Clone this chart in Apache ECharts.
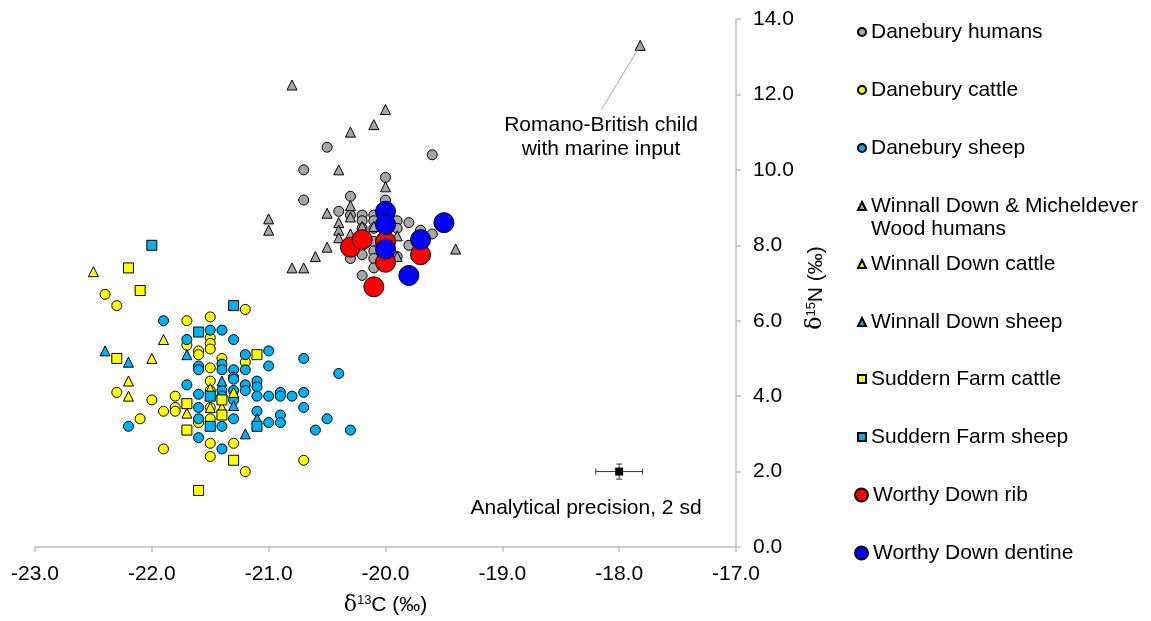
<!DOCTYPE html>
<html>
<head>
<meta charset="utf-8">
<script src="https://cdn.jsdelivr.net/npm/echarts@6/dist/echarts.min.js"></script>
<style>html,body{margin:0;padding:0;background:#fff}#c{width:1151px;height:621px}</style>
</head>
<body>
<div id="c"></div>
<script>
// ---- data (δ13C, δ15N) ----
const xTicks = [-23, -22, -21, -20, -19, -18, -17];
const yTicks = [0, 2, 4, 6, 8, 10, 12, 14];

const daneburyHumans = [[-20.5,10.6],[-19.6,10.4],[-20.7,10.0],[-20.0,9.8],[-20.7,9.2],[-20.3,9.3],[-20.0,9.2],[-20.4,8.9],[-20.3,8.8],[-20.2,8.8],[-20.2,8.65],[-20.1,8.8],[-20.1,8.65],[-20.2,8.45],[-20.1,8.45],[-19.9,8.65],[-19.9,8.45],[-19.8,8.6],[-19.7,8.4],[-19.6,8.3],[-20.1,8.1],[-20.1,7.85],[-20.1,7.65],[-20.1,7.4],[-20.2,8.0],[-20.2,7.75],[-20.3,7.65],[-20.2,7.2],[-19.8,8.0],[-19.9,7.7],[-20.0,8.3]];
const daneburyCattle = [[-22.4,6.7],[-22.3,6.4],[-21.7,6.0],[-21.5,6.1],[-21.2,6.3],[-21.5,5.55],[-21.5,5.4],[-21.5,5.25],[-21.7,5.35],[-21.6,5.2],[-21.6,5.1],[-21.4,5.0],[-21.5,4.75],[-21.2,4.9],[-22.3,4.1],[-21.5,4.4],[-21.5,4.15],[-21.8,4.0],[-22.0,3.9],[-21.8,3.7],[-21.8,3.6],[-21.9,3.6],[-21.5,3.7],[-21.6,3.3],[-21.5,3.4],[-22.1,3.4],[-21.9,2.6],[-21.5,2.75],[-21.3,2.75],[-21.5,2.4],[-21.2,2.0],[-20.7,2.3]];
const daneburySheep = [[-21.9,6.0],[-21.5,5.75],[-21.4,5.75],[-21.3,5.5],[-21.7,5.5],[-21.2,5.1],[-21.0,5.2],[-21.6,4.8],[-21.6,4.7],[-21.4,4.85],[-21.4,4.7],[-21.3,4.7],[-21.3,4.5],[-21.2,4.7],[-21.0,4.8],[-20.7,5.0],[-20.4,4.6],[-21.7,4.3],[-21.4,4.15],[-21.4,4.0],[-21.3,4.45],[-21.3,4.15],[-21.2,4.3],[-21.2,4.15],[-21.1,4.4],[-21.1,4.25],[-21.6,4.05],[-21.3,3.9],[-21.1,4.0],[-21.0,4.0],[-20.9,4.1],[-20.9,4.0],[-20.8,4.0],[-20.7,4.1],[-20.7,3.7],[-21.6,3.7],[-21.6,3.4],[-21.4,3.2],[-21.3,3.4],[-21.1,3.6],[-21.0,3.3],[-20.9,3.5],[-20.9,3.3],[-20.5,3.4],[-20.6,3.1],[-20.3,3.1],[-22.2,3.2],[-21.6,2.9],[-21.4,2.6]];
const winnallHumans = [[-20.8,12.25],[-20.0,11.6],[-20.1,11.2],[-20.3,11.0],[-20.4,10.0],[-20.0,9.55],[-20.3,9.05],[-20.5,8.85],[-20.3,8.75],[-20.4,8.6],[-20.4,8.4],[-20.3,8.3],[-20.4,8.2],[-20.5,7.95],[-20.6,7.7],[-20.8,7.4],[-20.7,7.4],[-19.4,7.9],[-19.9,7.7],[-21.0,8.7],[-21.0,8.4],[-20.2,8.5],[-20.1,8.5],[-19.9,8.25],[-17.82,13.3]];
const winnallCattle = [[-22.5,7.3],[-21.9,5.5],[-22.0,5.0],[-22.2,4.4],[-22.2,4.0],[-21.5,4.2],[-21.3,4.1],[-21.7,3.55],[-21.5,3.7],[-21.4,3.7]];
const winnallSheep = [[-22.4,5.2],[-22.2,4.9],[-21.7,5.1],[-21.4,4.4],[-21.3,3.75],[-21.1,3.4],[-21.2,3.0]];
const suddernCattle = [[-22.2,7.4],[-22.1,6.8],[-22.3,5.0],[-21.1,5.1],[-21.7,3.8],[-21.4,3.9],[-21.4,3.5],[-21.7,3.1],[-21.3,2.3],[-21.6,1.5]];
const suddernSheep = [[-22.0,8.0],[-21.3,6.4],[-21.6,5.7],[-21.5,4.0],[-21.5,3.2],[-21.1,3.2]];
const worthyRib = [[-20.3,7.95],[-20.2,8.15],[-20.0,8.1],[-20.0,7.55],[-19.7,7.75],[-20.1,6.9]];
const worthyDentine = [[-20.0,8.9],[-20.0,8.55],[-20.0,7.9],[-19.7,8.15],[-19.5,8.6],[-19.8,7.2]];
const precision = [[-18.0, 2.0, 0.2, 0.2]]; // x, y, x error, y error (2 sd)
const childLeader = [[-17.82, 13.3], [-18.15, 11.6]];

const FONT = '"Liberation Sans", Arial, sans-serif';
const FS = 21;
const AXIS_COLOR = '#BFBFBF';

function sc(name, data, symbol, color, size) {
  return {
    name, type: 'scatter', data, symbol, symbolSize: size,
    itemStyle: { color, borderColor: '#000', borderWidth: 1, opacity: 1 },
    emphasis: { disabled: true }
  };
}

const series = [
  sc('Danebury humans', daneburyHumans, 'circle', '#A6A6A6', 10),
  sc('Danebury cattle', daneburyCattle, 'circle', '#FFFF00', 10),
  sc('Danebury sheep', daneburySheep, 'circle', '#00B0F0', 10),
  sc('Winnall Down & Micheldever Wood humans', winnallHumans, 'triangle', '#A6A6A6', 10),
  sc('Winnall Down cattle', winnallCattle, 'triangle', '#FFFF00', 10),
  sc('Winnall Down sheep', winnallSheep, 'triangle', '#00B0F0', 10),
  sc('Suddern Farm cattle', suddernCattle, 'rect', '#FFFF00', 10),
  sc('Suddern Farm sheep', suddernSheep, 'rect', '#00B0F0', 10),
  sc('Worthy Down rib', worthyRib, 'circle', '#FF0000', 20),
  sc('Worthy Down dentine', worthyDentine, 'circle', '#0000FF', 20)
];
// leader line for the Romano-British child
series[3].markLine = {
  silent: true, symbol: 'none', animation: false,
  label: { show: false },
  lineStyle: { color: '#A6A6A6', width: 1, type: 'solid' },
  data: [[{ coord: childLeader[0] }, { coord: childLeader[1] }]]
};
// analytical precision with error bars
series.push({
  name: 'precision', type: 'custom', data: precision, z: 5,
  renderItem: function (params, api) {
    const x = api.value(0), y = api.value(1), ex = api.value(2), ey = api.value(3);
    const c = api.coord([x, y]);
    const l = api.coord([x - ex, y]), r = api.coord([x + ex, y]);
    const t = api.coord([x, y + ey]), b = api.coord([x, y - ey]);
    const st = { stroke: '#333', lineWidth: 1, fill: null };
    const cap = 3;
    return {
      type: 'group', children: [
        { type: 'line', shape: { x1: l[0], y1: l[1], x2: r[0], y2: r[1] }, style: st },
        { type: 'line', shape: { x1: l[0], y1: l[1] - cap, x2: l[0], y2: l[1] + cap }, style: st },
        { type: 'line', shape: { x1: r[0], y1: r[1] - cap, x2: r[0], y2: r[1] + cap }, style: st },
        { type: 'line', shape: { x1: t[0], y1: t[1], x2: b[0], y2: b[1] }, style: st },
        { type: 'line', shape: { x1: t[0] - cap, y1: t[1], x2: t[0] + cap, y2: t[1] }, style: st },
        { type: 'line', shape: { x1: b[0] - cap, y1: b[1], x2: b[0] + cap, y2: b[1] }, style: st },
        { type: 'rect', shape: { x: c[0] - 4, y: c[1] - 4, width: 8, height: 8 }, style: { fill: '#000' } }
      ]
    };
  }
});

// legends: one per entry to reproduce the fixed spacing
const legendCenters = [32, 90, 148, 206, 264, 322, 379, 437, 495, 553];
const legends = series.slice(0, 10).map((s, i) => {
  const big = i >= 8;
  const multi = i === 3;
  const lh = multi ? 23.5 : 24;
  return {
    data: [s.name],
    orient: 'vertical',
    left: big ? 854 : 857,
    top: multi ? legendCenters[i] - 1.5 * lh : legendCenters[i] - 12,
    padding: 0,
    itemWidth: big ? 13 : 8,
    itemHeight: big ? 13 : 8,
    selectedMode: false,
    // leading empty line keeps the icon level with the first text line
    formatter: multi ? (n) => '\n' + n.replace(' Wood', '\nWood') : '{name}',
    textStyle: { fontSize: FS, color: '#000', fontFamily: FONT, lineHeight: lh }
  };
});

const nameRich = {
  d: { fontSize: 22, fontFamily: '"DejaVu Serif", serif', color: '#000' },
  s: { fontSize: 13, verticalAlign: 'top', color: '#000', fontFamily: FONT, padding: [0, 0, 8, 0] },
  n: { fontSize: FS, color: '#000', fontFamily: FONT }
};

const chart = echarts.init(document.getElementById('c'), null, { renderer: 'canvas' });
chart.setOption({
  animation: false,
  backgroundColor: '#fff',
  grid: { left: 35, right: 415, top: 19, bottom: 74, containLabel: false },
  xAxis: {
    type: 'value', min: xTicks[0], max: xTicks[xTicks.length - 1], interval: 1,
    splitLine: { show: false },
    axisLine: { onZero: false, lineStyle: { color: AXIS_COLOR, width: 1.5 } },
    axisTick: { show: true, length: 5, lineStyle: { color: AXIS_COLOR, width: 1.5 } },
    axisLabel: { formatter: v => v.toFixed(1), fontSize: FS, color: '#000', fontFamily: FONT, margin: 17 },
    name: '{d|δ}{s|13}{n|C (‰)}', nameLocation: 'middle', nameGap: 47,
    nameTextStyle: { color: '#000', fontFamily: FONT, fontSize: FS, rich: nameRich }
  },
  yAxis: {
    type: 'value', position: 'right', min: yTicks[0], max: yTicks[yTicks.length - 1], interval: 2,
    splitLine: { show: false },
    axisLine: { onZero: false, lineStyle: { color: AXIS_COLOR, width: 1.5 } },
    axisTick: { show: true, length: 5, lineStyle: { color: AXIS_COLOR, width: 1.5 } },
    axisLabel: { formatter: v => v.toFixed(1), fontSize: FS, color: '#000', fontFamily: FONT, margin: 17 },
    name: '{d|δ}{s|15}{n|N (‰)}', nameLocation: 'middle', nameGap: 67, nameRotate: 90,
    nameTextStyle: { color: '#000', fontFamily: FONT, fontSize: FS, rich: nameRich, padding: [0, 10, 0, 0] }
  },
  legend: legends,
  graphic: [
    { type: 'text', x: 601, y: 137, silent: true,
      style: { text: 'Romano-British child\nwith marine input', fill: '#000', font: FS + 'px ' + FONT, align: 'center', verticalAlign: 'middle', lineHeight: 24 } },
    { type: 'text', x: 586, y: 508, silent: true,
      style: { text: 'Analytical precision, 2 sd', fill: '#000', font: FS + 'px ' + FONT, align: 'center', verticalAlign: 'middle' } }
  ],
  series: series
});
</script>
</body>
</html>
